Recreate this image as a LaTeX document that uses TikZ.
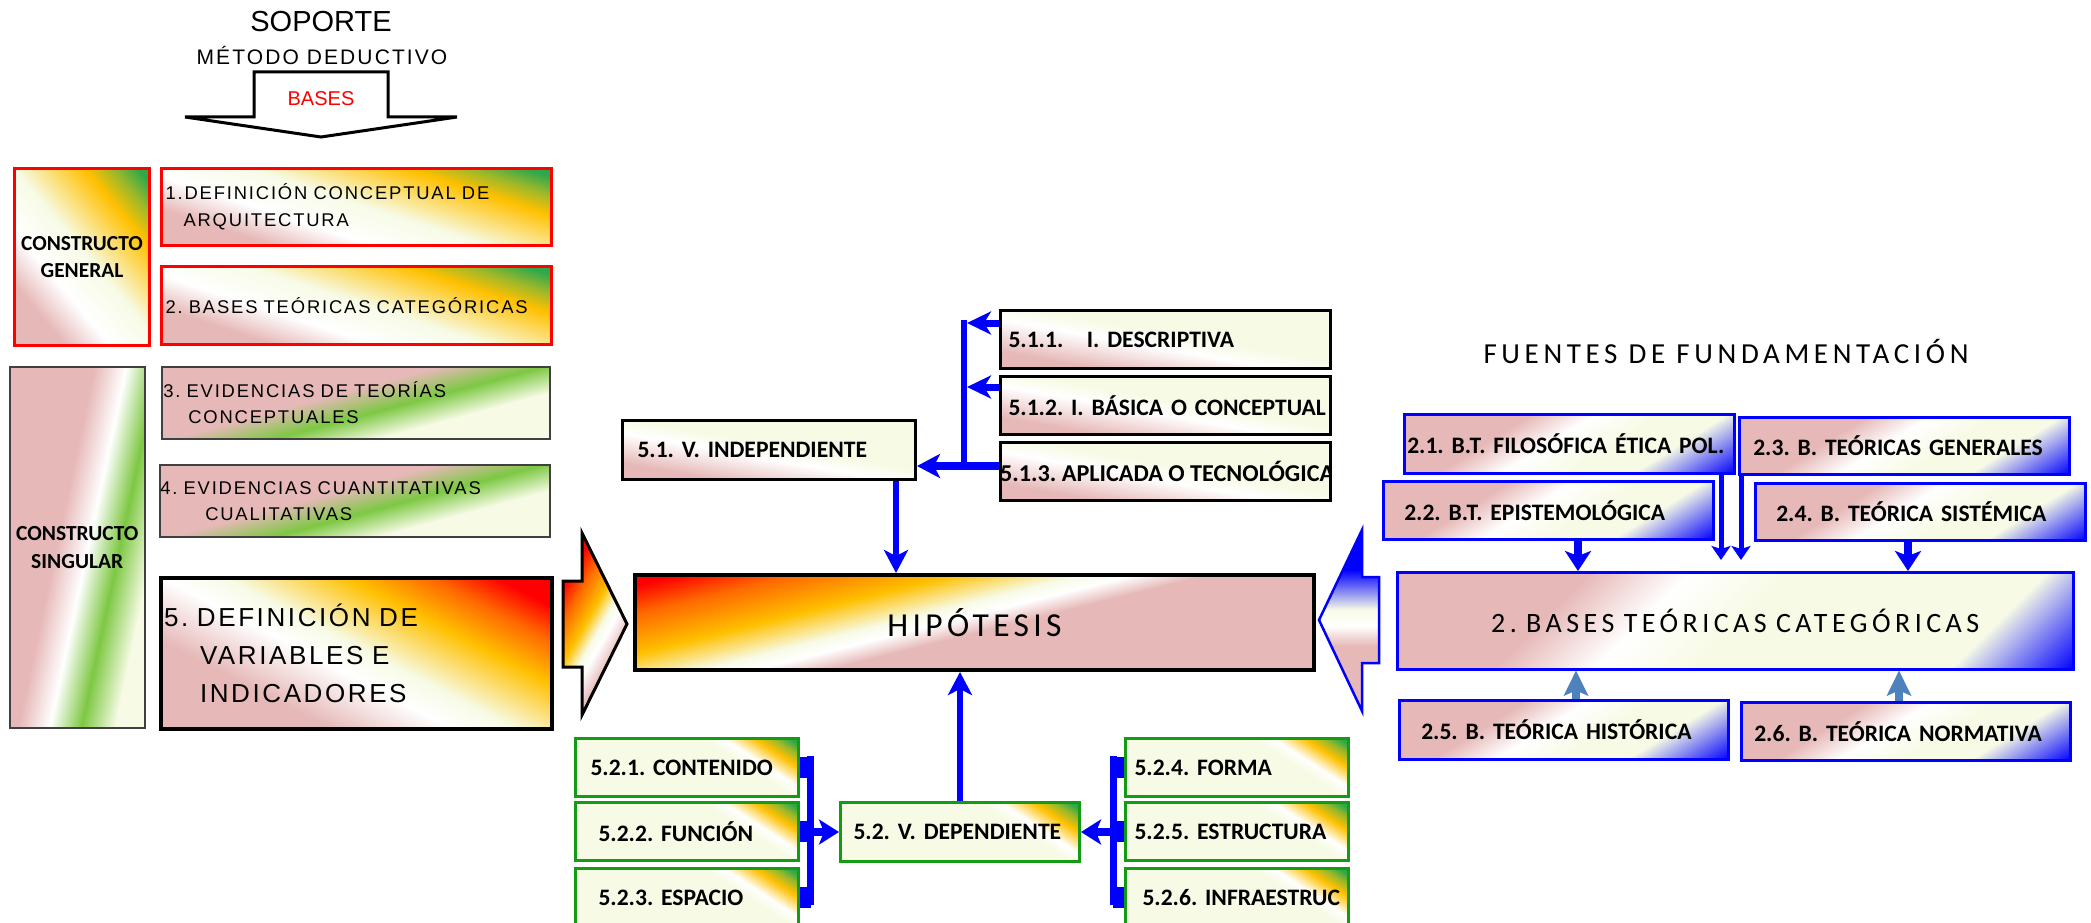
\documentclass[tikz,border=0pt]{standalone}
\usepackage{fontspec}
\setmainfont{Liberation Sans}
\newfontfamily\flsp{Liberation Sans}[LetterSpace=10]
\newfontfamily\fcal{Carlito}
\newfontfamily\fcalsp{Carlito}[LetterSpace=13]
\newfontfamily\fcalspw{Carlito}[LetterSpace=16]
\usetikzlibrary{arrows.meta,calc}
\frenchspacing
\definecolor{pk}{HTML}{E6B9B8}
\definecolor{cr}{HTML}{F7FBE6}
\definecolor{og}{HTML}{FFC000}
\definecolor{orr}{HTML}{FF6A00}
\definecolor{rd}{HTML}{FF0000}
\definecolor{dg}{HTML}{2EA84A}
\definecolor{mg}{HTML}{9BB82A}
\definecolor{lg}{HTML}{7DC843}
\definecolor{bl}{HTML}{0000FF}
\definecolor{sb}{HTML}{4F81BD}
\definecolor{gb}{HTML}{149B14}
\definecolor{gy}{HTML}{404040}
\pgfdeclarehorizontalshading{shGen}{100bp}{color(0bp)=(pk); color(34bp)=(pk); color(42bp)=(white); color(51bp)=(cr); color(63.5bp)=(og); color(68.5bp)=(mg); color(73bp)=(dg); color(100bp)=(dg)}
\pgfdeclarehorizontalshading{shBoxV}{100bp}{color(0bp)=(pk); color(37.5bp)=(pk); color(46.5bp)=(white); color(51bp)=(cr); color(60bp)=(og); color(66bp)=(orr); color(71bp)=(rd); color(100bp)=(rd)}
\pgfdeclarehorizontalshading{shHyp}{100bp}{color(0bp)=(pk); color(48bp)=(pk); color(51.5bp)=(white); color(54bp)=(cr); color(60bp)=(og); color(67.5bp)=(orr); color(73bp)=(rd); color(100bp)=(rd)}
\pgfdeclarehorizontalshading{shChev}{100bp}{color(0bp)=(pk); color(39bp)=(pk); color(45bp)=(white); color(48bp)=(cr); color(53bp)=(og); color(60bp)=(orr); color(66bp)=(rd); color(100bp)=(rd)}
\pgfdeclarehorizontalshading{shSing}{100bp}{color(0bp)=(pk); color(45bp)=(pk); color(52.5bp)=(white); color(60bp)=(lg); color(68bp)=(cr); color(100bp)=(cr)}
\pgfdeclarehorizontalshading{shEvid}{100bp}{color(0bp)=(pk); color(46bp)=(pk); color(54bp)=(lg); color(62bp)=(cr); color(100bp)=(cr)}
\pgfdeclarehorizontalshading{shPink}{100bp}{color(0bp)=(pk); color(32.5bp)=(pk); color(46bp)=(white); color(52.5bp)=(cr); color(100bp)=(cr)}
\pgfdeclarehorizontalshading{shCorner}{100bp}{color(0bp)=(cr); color(60bp)=(cr); color(63bp)=(white); color(68bp)=(og); color(71bp)=(mg); color(73.5bp)=(dg); color(100bp)=(dg)}
\pgfdeclarehorizontalshading{shBlue}{100bp}{color(0bp)=(pk); color(40bp)=(pk); color(47.5bp)=(white); color(55bp)=(cr); color(63bp)=(cr); color(75bp)=(bl); color(100bp)=(bl)}
\pgfdeclarehorizontalshading{shBig}{100bp}{color(0bp)=(pk); color(37.5bp)=(pk); color(44bp)=(white); color(50bp)=(cr); color(67bp)=(cr); color(75bp)=(bl); color(100bp)=(bl)}
\pgfdeclarehorizontalshading{shBChev}{100bp}{color(0bp)=(pk); color(43bp)=(pk); color(48.5bp)=(white); color(53bp)=(cr); color(64bp)=(bl); color(100bp)=(bl)}
% gradient painter: shading #1 at true angle #2 across the path picture box
\newcommand\gradfillX[2]{%
  \pgfpointdiff{\pgfpointanchor{path picture bounding box}{south west}}{\pgfpointanchor{path picture bounding box}{north east}}%
  \pgfgetlastxy{\grW}{\grH}%
  \pgfmathsetmacro\grP{abs(\grW*cos(#2))+abs(\grH*sin(#2))}%
  \pgfmathsetmacro\grQ{abs(\grW*sin(#2))+abs(\grH*cos(#2))+6}%
  \begin{pgfscope}%
    \pgftransformshift{\pgfpointanchor{path picture bounding box}{center}}%
    \pgftransformrotate{#2}%
    \pgflowlevelsynccm%
    \pgfpathrectangle{\pgfpoint{-0.5*\grP pt}{-0.5*\grQ pt}}{\pgfpoint{\grP pt}{\grQ pt}}%
    \pgfshadepath{#1}{0}%
    \pgfusepath{}%
  \end{pgfscope}%
}
\begin{document}
\begin{tikzpicture}[x=1pt,y=-1pt,
  gsh/.style 2 args={path picture={\gradfillX{#1}{#2}}},
  bx/.style={anchor=north west, inner xsep=0pt, inner ysep=0pt, align=left},
  lb/.style={font=\fcal\bfseries\fontsize{23.6}{28}\selectfont},
  lsmall/.style={font=\flsp\fontsize{18.4}{27}\selectfont},
  redbox/.style={bx, draw=rd, line width=3pt},
  graybox/.style={bx, draw=gy, line width=1.5pt},
  blkbox/.style={bx, lb, draw=black, line width=3pt, gsh={shPink}{80}, minimum height=58pt},
  grnbox/.style={bx, lb, draw=gb, line width=3pt, gsh={shCorner}{57}, minimum width=223pt, minimum height=58pt},
  blubox/.style={bx, lb, draw=bl, line width=2.5pt, gsh={shBlue}{-58}, minimum width=330pt, minimum height=58pt},
  arrA/.style={draw=bl, line width=7pt, -{Stealth[length=24pt,width=23pt,inset=7pt]}},
  arrB/.style={draw=bl, line width=8.5pt, -{Stealth[length=23pt,width=24pt,inset=6pt]}},
  arrC/.style={draw=bl, line width=6.5pt, -{Stealth[length=23pt,width=24pt,inset=6pt]}},
  arrD/.style={draw=bl, line width=8pt, -{Stealth[length=20pt,width=25pt,inset=5pt]}},
  arrE/.style={draw=bl, line width=8pt, -{Stealth[length=20pt,width=26pt,inset=5pt]}},
  arrF/.style={draw=bl, line width=5pt, -{Stealth[length=14pt,width=19pt,inset=3pt]}},
  arrG/.style={draw=sb, line width=8pt, -{Stealth[length=25pt,width=24pt,inset=5pt]}},
  stub/.style={draw=bl, line width=21pt},
  bar/.style={draw=bl, line width=7pt}
]
\useasboundingbox (0,0) rectangle (2091,923);
\fill[white] (0,0) rectangle (2091,923);
\clip (0,0) rectangle (2091,923);

% ---- top left titles ----
\node[anchor=base, font=\fontsize{29}{33}\selectfont] (soporte) at (321,32) {SOPORTE};
\node[anchor=base, font=\flsp\fontsize{21}{25}\selectfont] (metodo) at (322,65) {MÉTODO DEDUCTIVO};
\draw[line width=3pt, fill=white, line join=miter] (254,72) -- (388,72) -- (388,117) -- (457,117) -- (321,137) -- (185,117) -- (254,117) -- cycle;
\node[anchor=base, text=rd, font=\fontsize{20}{24}\selectfont] (bases) at (321,106) {BASES};

% ---- left column ----
\node[redbox, gsh={shGen}{40}, minimum width=135pt, minimum height=177pt, text width=135pt, align=center, font=\fcal\bfseries\fontsize{21.4}{27}\selectfont] (cg) at (13,167) {CONSTRUCTO\\GENERAL};
\node[redbox, lsmall, gsh={shGen}{72}, minimum width=390pt, minimum height=77pt, text width=382pt] (b1) at (160,167) {1.DEFINICIÓN CONCEPTUAL DE\\\hspace*{18pt}ARQUITECTURA};
\node[redbox, lsmall, gsh={shGen}{72}, minimum width=390pt, minimum height=78pt, text width=382pt] (b2) at (160,265) {2. BASES TEÓRICAS CATEGÓRICAS};
\node[graybox, gsh={shSing}{-12}, minimum width=135pt, minimum height=361pt, text width=135pt, align=center, font=\fcal\bfseries\fontsize{21.5}{28}\selectfont] (cs) at (9,366) {CONSTRUCTO\\SINGULAR};
\node[graybox, font=\flsp\fontsize{18.4}{26}\selectfont, gsh={shEvid}{-75}, minimum width=388pt, minimum height=72pt, text width=385pt] (b3) at (161,366) {3. EVIDENCIAS DE TEORÍAS\\\hspace*{25pt}CONCEPTUALES};
\node[graybox, font=\flsp\fontsize{18.4}{26}\selectfont, gsh={shEvid}{-75}, minimum width=390pt, minimum height=72pt, text width=389pt] (b4) at (159,464) {4. EVIDENCIAS CUANTITATIVAS\\\hspace*{45pt}CUALITATIVAS};
\node[bx, draw=black, line width=4pt, font=\flsp\fontsize{26}{38}\selectfont, gsh={shBoxV}{62.5}, minimum width=391pt, minimum height=151pt, text width=385pt] (b5) at (159,576) {5. DEFINICIÓN DE\\\hspace*{36pt}VARIABLES E\\\hspace*{36pt}INDICADORES};

% ---- left chevron ----
\draw[line width=3pt, line join=miter, gsh={shChev}{150}] (563,581) -- (582,581) -- (582,533) -- (627,624) -- (582,715) -- (582,667) -- (563,667) -- cycle;

% ---- hypothesis ----
\node[bx, draw=black, line width=4pt, gsh={shHyp}{104}, minimum width=679pt, minimum height=95pt, text width=679pt, align=center, font=\fcalsp\fontsize{33.5}{38}\selectfont] (hyp) at (633,573) {HIPÓTESIS};

% ---- independent variable ----
\node[blkbox, minimum width=330pt, text width=314pt] (n511) at (999,309) {\mbox{5.1.1.\ \ \ I. DESCRIPTIVA}};
\node[blkbox, minimum width=330pt, text width=314pt] (n512) at (999,375) {\mbox{5.1.2. I. BÁSICA O CONCEPTUAL}};
\node[blkbox, minimum width=330pt] (n513) at (999,441) {};
\begin{scope}
\clip (n513.north west) rectangle ($(n513.south east)+(-2.5,0)$);
\node[anchor=west, inner sep=0pt, font=\fcal\bfseries\fontsize{24.2}{28}\selectfont] (n513t) at ([xshift=1pt]n513.west) {5.1.3. APLICADA O TECNOLÓGICA};
\end{scope}
\node[blkbox, minimum width=293pt, minimum height=59pt, text width=263pt] (n51) at (621,419) {\mbox{5.1. V. INDEPENDIENTE}};

\coordinate (trT) at (964,320);
\coordinate (trB) at (964,470);
\coordinate (t1) at (967,323);
\coordinate (t2) at (967,387);
\coordinate (t3) at (0,466);
\coordinate (c51) at (896,0);
\draw[draw=bl, line width=6pt] (trT) -- (trB);
\draw[arrA] (n511.west |- t1) -- (t1);
\draw[arrA] (n512.west |- t2) -- (t2);
\draw[arrB] (n513.west |- t3) -- (n51.east |- t3);
\draw[arrC] (n51.south -| c51) -- (hyp.north -| c51);

% ---- dependent variable ----
\node[grnbox, text width=193pt] (n521) at (574,737) {\mbox{5.2.1. CONTENIDO}};
\node[grnbox, text width=177pt] (n522) at (574,801) {\mbox{5.2.2. FUNCIÓN}};
\node[grnbox, text width=177pt] (n523) at (574,867) {\mbox{5.2.3. ESPACIO}};
\node[grnbox, minimum width=239pt, minimum height=59pt, text width=213pt] (n52) at (839,801) {\mbox{5.2. V. DEPENDIENTE}};
\node[grnbox, text width=205pt] (n524) at (1124,737) {\mbox{5.2.4. FORMA}};
\node[grnbox, text width=205pt] (n525) at (1124,801) {\mbox{5.2.5. ESTRUCTURA}};
\node[grnbox, text width=189pt] (n526) at (1124,867) {\mbox{5.2.6. INFRAESTRUC}};

\coordinate (lbT) at (810.5,756);
\coordinate (lbB) at (810.5,905);
\coordinate (rbT) at (1113,756);
\coordinate (rbB) at (1113,905);
\draw[bar] (lbT) -- (lbB);
\draw[bar] (rbT) -- (rbB);
\foreach \n in {n521,n522,n523} { \draw[stub] (\n.east) -- (\n.east -| lbT); }
\foreach \n in {n524,n525,n526} { \draw[stub] (\n.west) -- (\n.west -| rbT); }
\draw[arrD] (n52.west -| lbT) -- (n52.west);
\draw[arrD] (n52.east -| rbT) -- (n52.east);
\draw[arrC] (n52.north) -- (n52.north |- hyp.south);

% ---- right side ----
\node[anchor=base, font=\fcalspw\fontsize{29}{33}\selectfont] (fuentes) at (1726,363) {FUENTES DE FUNDAMENTACIÓN};
\node[blubox, minimum height=59pt, text width=324pt] (n21) at (1403,413) {\mbox{2.1. B.T. FILOSÓFICA ÉTICA POL.}};
\node[blubox, minimum height=57pt, text width=302pt] (n23) at (1738,416) {\mbox{2.3. B. TEÓRICAS GENERALES}};
\node[blubox, text width=288pt] (n22) at (1382,480) {\mbox{2.2. B.T. EPISTEMOLÓGICA}};
\node[blubox, minimum height=57pt, text width=288pt] (n24) at (1754,482) {\mbox{2.4. B. TEÓRICA SISTÉMICA}};
\node[bx, draw=bl, line width=2.5pt, gsh={shBig}{-45}, minimum width=676pt, minimum height=97pt, text width=676pt, align=center, font=\fcalspw\fontsize{28}{32}\selectfont] (big) at (1396,571) {2. BASES TEÓRICAS CATEGÓRICAS};
\node[blubox, minimum width=329pt, minimum height=59pt, text width=285pt] (n25) at (1398,699) {\mbox{2.5. B. TEÓRICA HISTÓRICA}};
\node[blubox, minimum width=329pt, text width=303pt] (n26) at (1740,701) {\mbox{2.6. B. TEÓRICA NORMATIVA}};

\draw[draw=bl, line width=2.5pt, line join=miter, gsh={shBChev}{90}] (1319,620) -- (1362,530) -- (1362,577) -- (1379,577) -- (1379,663) -- (1362,663) -- (1362,711) -- cycle;

\coordinate (x22) at (1578,0);
\coordinate (x24) at (1908,0);
\coordinate (x21) at (1721,560);
\coordinate (x23) at (1741,560);
\coordinate (x25) at (1576,0);
\coordinate (x26) at (1899,0);
\draw[arrE] (n22.south -| x22) -- (big.north -| x22);
\draw[arrE] (n24.south -| x24) -- (big.north -| x24);
\draw[arrF] (n21.south -| x21) -- (x21);
\draw[arrF] (n23.south -| x23) -- (x23);
\draw[arrG] (n25.north -| x25) -- (big.south -| x25);
\draw[arrG] (n26.north -| x26) -- (big.south -| x26);
\end{tikzpicture}
\end{document}
